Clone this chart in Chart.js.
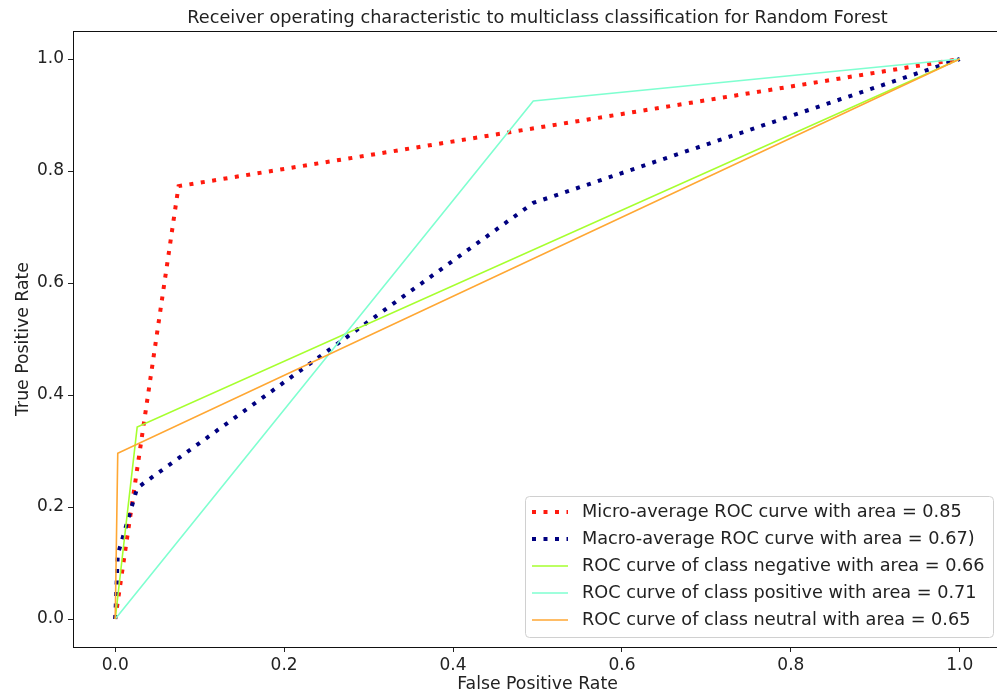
<!DOCTYPE html>
<html lang="en">
<head>
    <meta charset="UTF-8">
    <title>ROC curves - Random Forest</title>
    <style>
        html, body { margin: 0; padding: 0; background: #fff; overflow: hidden; }
        #wrap { width: 997px; height: 697px; overflow: hidden; }
        canvas { display: block; }
    </style>
    <script src="https://cdn.jsdelivr.net/npm/chart.js"></script>
</head>
<body>
    <div id="wrap">
        <canvas id="rocChart" width="1010" height="697"></canvas>
    </div>
    <script>
        // ROC points (false positive rate, true positive rate)
        const microFpr = [0, 0.075, 1];
        const microTpr = [0, 0.773, 1];
        const macroFpr = [0, 0.003, 0.026, 0.495, 1];
        const macroTpr = [0, 0.115, 0.234, 0.743, 1];
        const negFpr = [0, 0.026, 1];
        const negTpr = [0, 0.343, 1];
        const posFpr = [0, 0.495, 1];
        const posTpr = [0, 0.925, 1];
        const neuFpr = [0, 0.003, 1];
        const neuTpr = [0, 0.296, 1];

        const seriesLabels = [
            'Micro-average ROC curve with area = 0.85',
            'Macro-average ROC curve with area = 0.67)',
            'ROC curve of class negative with area = 0.66',
            'ROC curve of class positive with area = 0.71',
            'ROC curve of class neutral with area = 0.65'
        ];
        const tickValues = [0, 0.2, 0.4, 0.6, 0.8, 1.0];

        const FONT = 'DejaVu Sans';

        function pts(xs, ys) {
            return xs.map((x, i) => ({ x: x, y: ys[i] }));
        }

        const dotted = [4, 7.5];
        const datasets = [
            { label: seriesLabels[0], data: pts(microFpr, microTpr), borderColor: '#ff1a0e', borderWidth: 4, borderDash: dotted, order: 5 },
            { label: seriesLabels[1], data: pts(macroFpr, macroTpr), borderColor: '#000080', borderWidth: 4, borderDash: dotted, order: 4 },
            { label: seriesLabels[2], data: pts(negFpr, negTpr), borderColor: '#a6ff2e', borderWidth: 1.6, order: 3 },
            { label: seriesLabels[3], data: pts(posFpr, posTpr), borderColor: '#7fffd0', borderWidth: 1.6, order: 2 },
            { label: seriesLabels[4], data: pts(neuFpr, neuTpr), borderColor: '#ffa733', borderWidth: 1.6, order: 1 }
        ].map(d => Object.assign({ pointRadius: 0, fill: false, tension: 0, borderCapStyle: 'butt' }, d));

        // axes box, title and legend in the same style as the rest of the plot
        const framePlugin = {
            id: 'frame',
            afterDraw(chart) {
                const { ctx, chartArea: a } = chart;
                ctx.save();
                ctx.strokeStyle = '#111';
                ctx.lineWidth = 1;
                ctx.strokeRect(Math.round(a.left) + 0.5, Math.round(a.top) + 0.5,
                               Math.round(a.right - a.left), Math.round(a.bottom - a.top));

                // title
                ctx.fillStyle = '#222';
                ctx.font = '17.7px "' + FONT + '"';
                ctx.textAlign = 'center';
                ctx.textBaseline = 'middle';
                ctx.fillText('Receiver operating characteristic to multiclass classification for Random Forest',
                             (a.left + a.right) / 2, 18);

                // legend box
                const bx = 525, by = 496, bw = 468, bh = 141;
                ctx.beginPath();
                ctx.roundRect(bx + 0.5, by + 0.5, bw, bh, 4);
                ctx.fillStyle = 'rgba(255,255,255,0.8)';
                ctx.fill();
                ctx.strokeStyle = '#d0d0d0';
                ctx.lineWidth = 1;
                ctx.stroke();

                ctx.font = '17.7px "' + FONT + '"';
                ctx.textAlign = 'left';
                chart.data.datasets.forEach((ds, i) => {
                    const y = 512 + i * 27;
                    ctx.beginPath();
                    ctx.strokeStyle = ds.borderColor;
                    ctx.lineWidth = ds.borderWidth;
                    ctx.setLineDash(ds.borderDash || []);
                    ctx.moveTo(532, y);
                    ctx.lineTo(568, y);
                    ctx.stroke();
                    ctx.setLineDash([]);
                    ctx.fillStyle = '#222';
                    ctx.fillText(ds.label, 582, y);
                });
                ctx.restore();
            }
        };

        function fixedTicks(scale) {
            scale.ticks = tickValues.map(v => ({ value: v }));
        }

        new Chart(document.getElementById('rocChart'), {
            type: 'line',
            data: { datasets: datasets },
            options: {
                responsive: false,
                animation: false,
                devicePixelRatio: 1,
                layout: { padding: { top: 31, right: 8, left: 0, bottom: 0 } },
                plugins: {
                    legend: { display: false },
                    title: { display: false },
                    tooltip: { enabled: false }
                },
                scales: {
                    x: {
                        type: 'linear',
                        min: -0.05,
                        max: 1.05,
                        afterBuildTicks: fixedTicks,
                        afterFit(scale) { scale.height = 50; },
                        border: { display: false },
                        grid: { drawOnChartArea: false, drawTicks: true, tickLength: 5, color: '#222' },
                        ticks: {
                            color: '#222',
                            font: { family: FONT, size: 17 },
                            padding: 3,
                            maxRotation: 0,
                            callback: v => v.toFixed(1)
                        },
                        title: {
                            display: true,
                            text: 'False Positive Rate',
                            color: '#222',
                            font: { family: FONT, size: 17.3 },
                            padding: { top: 0, bottom: 2 }
                        }
                    },
                    y: {
                        type: 'linear',
                        min: -0.05,
                        max: 1.05,
                        afterBuildTicks: fixedTicks,
                        afterFit(scale) { scale.width = 73; },
                        border: { display: false },
                        grid: { drawOnChartArea: false, drawTicks: true, tickLength: 5, color: '#222' },
                        ticks: {
                            color: '#222',
                            font: { family: FONT, size: 17 },
                            padding: 4,
                            callback: v => v.toFixed(1)
                        },
                        title: {
                            display: true,
                            text: 'True Positive Rate',
                            color: '#222',
                            font: { family: FONT, size: 17.3 },
                            padding: { top: 13, bottom: 0 }
                        }
                    }
                }
            },
            plugins: [framePlugin]
        });
    </script>
</body>
</html>
